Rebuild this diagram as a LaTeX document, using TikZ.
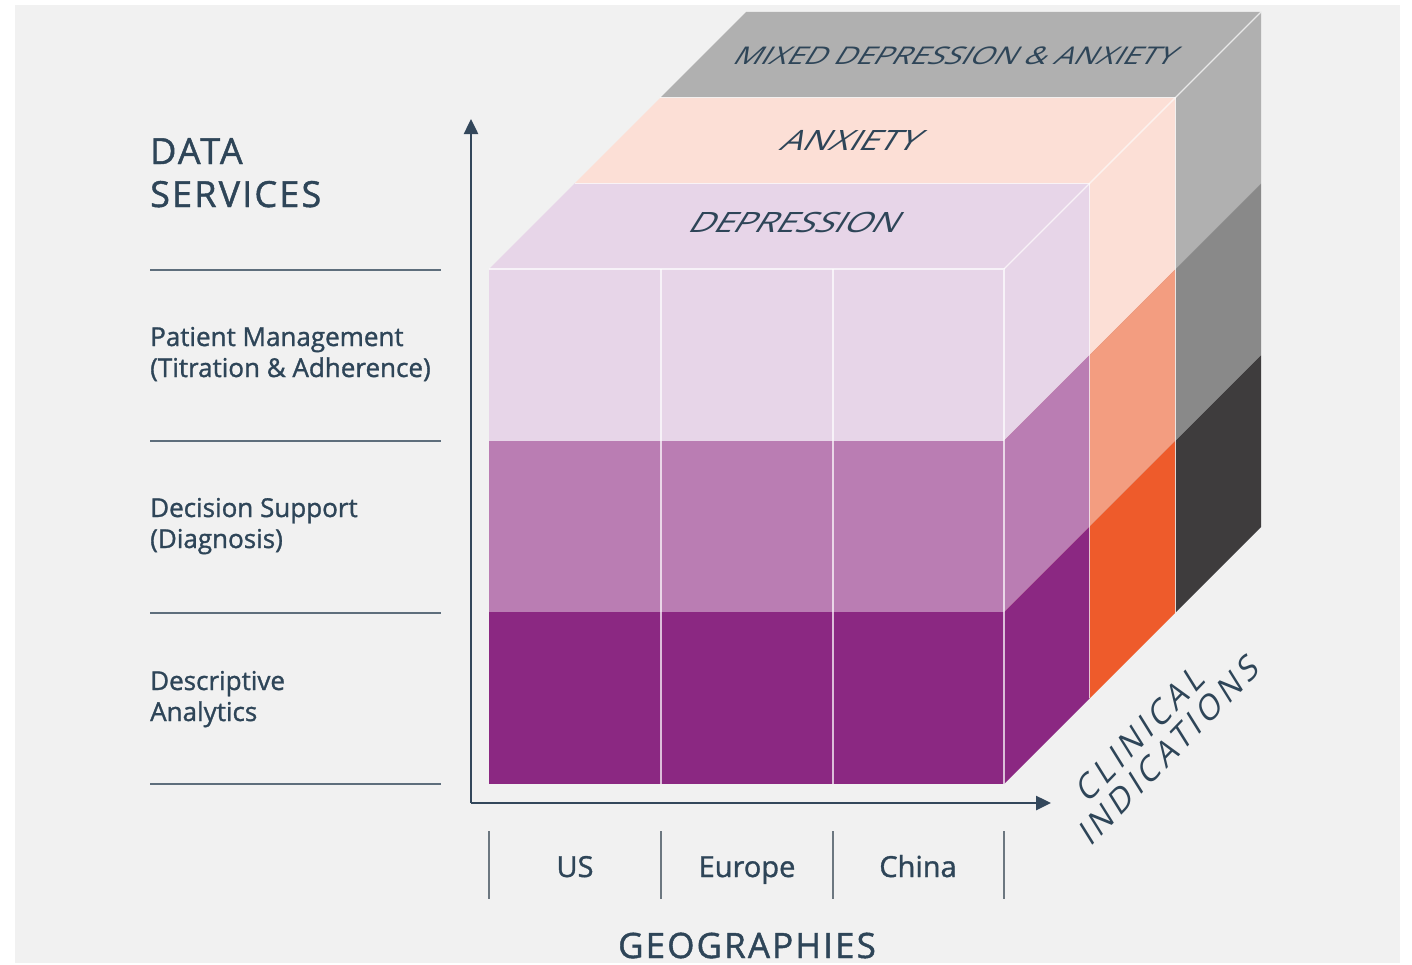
\documentclass[tikz,border=0pt]{standalone}
\usepackage{fontspec}
\setmainfont{Open Sans}
\usetikzlibrary{arrows.meta}
\definecolor{bg}{HTML}{F1F1F1}
\definecolor{ink}{HTML}{2E4558}
\definecolor{rulec}{HTML}{5E6E7C}
\definecolor{tickc}{HTML}{6C7780}
\definecolor{axisc}{HTML}{33475B}
\definecolor{dA}{HTML}{E7D5E8}\definecolor{dB}{HTML}{BA7DB3}\definecolor{dC}{HTML}{8B2882}
\definecolor{aA}{HTML}{FCDFD6}\definecolor{aB}{HTML}{F39D80}\definecolor{aC}{HTML}{EE5B2B}
\definecolor{mA}{HTML}{B0B0B0}\definecolor{mB}{HTML}{898989}\definecolor{mC}{HTML}{3E3C3D}
\newcommand\CubeLayer[4]{%
\begin{scope}[shift={({#1*85.67},{-#1*85.67})}]
 \fill[#2] (489,269) rectangle (1004,440.67);
 \fill[#3] (489,440.67) rectangle (1004,612.33);
 \fill[#4] (489,612.33) rectangle (1004,784);
 \fill[#2] (489,269) -- (1004,269) -- (1089.67,183.33) -- (574.67,183.33) -- cycle;
 \fill[#2] (1004,269) -- (1089.67,183.33) -- (1089.67,355) -- (1004,440.67) -- cycle;
 \fill[#3] (1004,440.67) -- (1089.67,355) -- (1089.67,526.67) -- (1004,612.33) -- cycle;
 \fill[#4] (1004,612.33) -- (1089.67,526.67) -- (1089.67,698.33) -- (1004,784) -- cycle;
\end{scope}}
\tikzset{
 lbl/.style={text=ink, inner sep=0pt, font=\fontsize{26}{31}\selectfont\addfontfeatures{FakeBold=1.2}, align=left},
 head/.style={text=ink, inner sep=0pt, font=\fontsize{36}{43}\selectfont\addfontfeatures{LetterSpace=6,FakeBold=1.2}, align=left},
 geo/.style={text=ink, inner sep=0pt, font=\fontsize{29}{34}\selectfont\addfontfeatures{FakeBold=1.2}},
 face/.style={text=ink, inner sep=0pt, yscale=0.8, xslant=0.5},
 clin/.style={text=ink, inner sep=0pt, font=\fontsize{32.5}{32}\selectfont\addfontfeatures{LetterSpace=14}, rotate=46, xslant=0.25, align=left},
 sep/.style={draw=rulec, line width=1.5},
 tick/.style={draw=tickc, line width=1.5},
 axis/.style={draw=axisc, line width=2.5, -{Triangle[length=15,width=14]}},
 cubeedge/.style={draw=white, line width=1.3, draw opacity=0.7},
}
\begin{document}
\begin{tikzpicture}[x=1pt,y=-1pt]
\useasboundingbox (0,0) rectangle (1412,964);
\fill[white] (0,0) rectangle (1412,964);
\fill[bg] (15,5) rectangle (1400,963);
% cube, back to front
\CubeLayer{2}{mA}{mB}{mC}
\CubeLayer{1}{aA}{aB}{aC}
\CubeLayer{0}{dA}{dB}{dC}
% light edges
\draw[cubeedge] (489,269) -- (1004,269) -- (1004,784);
\draw[cubeedge] (661,269) -- (661,784);
\draw[cubeedge] (833,269) -- (833,784);
\draw[cubeedge] (1004,269) -- (1089.67,183.33) -- (1175.33,97.67) -- (1261,12);
\draw[cubeedge] (574.67,183.33) -- (1089.67,183.33) -- (1089.67,698.33);
\draw[cubeedge] (660.33,97.67) -- (1175.33,97.67) -- (1175.33,612.67);
% face labels
\node[face, font=\fontsize{30.5}{36}\selectfont] (mixed) at (957,56) {MIXED DEPRESSION \& ANXIETY};
\node[face, font=\fontsize{35}{40}\selectfont] (anx) at (853,140) {ANXIETY};
\node[face, font=\fontsize{35}{40}\selectfont] (dep) at (797,222) {DEPRESSION};
% axes
\coordinate (O) at (471,803);
\coordinate (ytip) at (471,119);
\coordinate (xtip) at (1051,803);
\draw[axis] (O) -- (ytip);
\draw[axis] (O) -- (xtip);
% left rules
\foreach \yy/\nm in {270/r1,441/r2,613/r3,784/r4}{
 \coordinate (\nm a) at (150,\yy); \coordinate (\nm b) at (441,\yy);
 \draw[sep] (\nm a) -- (\nm b);}
% bottom ticks
\foreach \xx/\nm in {489/t1,661/t2,833/t3,1004/t4}{
 \coordinate (\nm a) at (\xx,831); \coordinate (\nm b) at (\xx,899);
 \draw[tick] (\nm a) -- (\nm b);}
% texts (base anchor = last line's baseline)
\node[head, anchor=base west] (ds) at (150,207) {DATA\\SERVICES};
\node[lbl, anchor=base west] (pm) at (150,377) {Patient Management\\(Titration \& Adherence)};
\node[lbl, anchor=base west] (dsup) at (150,548) {Decision Support\\(Diagnosis)};
\node[lbl, anchor=base west] (da) at (150,721) {Descriptive\\Analytics};
\node[geo, anchor=base] (us) at (575,877) {US};
\node[geo, anchor=base] (eu) at (747,877) {Europe};
\node[geo, anchor=base] (cn) at (918,877) {China};
\node[head, anchor=base] (geog) at (747,958) {\fontsize{35}{40}\selectfont GEOGRAPHIES};
\node[clin, anchor=base west] (clin) at (1090,848) {\hspace*{22pt}CLINICAL\\INDICATIONS};
\end{tikzpicture}
\end{document}
